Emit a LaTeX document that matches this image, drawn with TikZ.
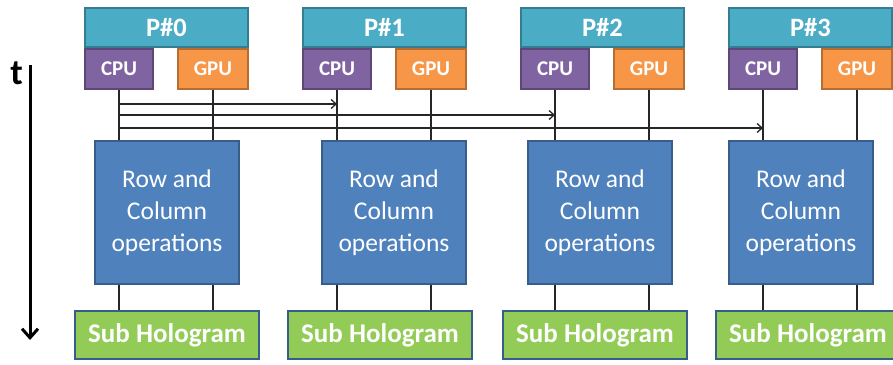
\documentclass[tikz,border=0pt]{standalone}
\usepackage{fontspec}
\setmainfont{Carlito}
\usepackage{tikz}
\usetikzlibrary{positioning,calc,arrows.meta}

\definecolor{procfill}{RGB}{75,172,198}
\definecolor{procline}{RGB}{53,125,145}
\definecolor{cpufill}{RGB}{128,100,162}
\definecolor{cpuline}{RGB}{92,71,118}
\definecolor{gpufill}{RGB}{247,150,70}
\definecolor{gpuline}{RGB}{182,109,49}
\definecolor{opfill}{RGB}{79,129,189}
\definecolor{opline}{RGB}{56,93,138}
\definecolor{subfill}{RGB}{146,204,86}

\begin{document}
\begin{tikzpicture}[x=1pt, y=-1pt,
    box/.style={draw, line width=1.6pt, inner sep=0pt, text=white},
    proc/.style={box, draw=procline, fill=procfill, minimum width=163pt, minimum height=39pt,
        font=\fontsize{26.5}{30}\selectfont\bfseries},
    cpu/.style={box, draw=cpuline, fill=cpufill, minimum width=68pt, minimum height=40pt,
        font=\fontsize{21}{25}\selectfont\bfseries},
    gpu/.style={box, draw=gpuline, fill=gpufill, minimum width=70pt, minimum height=40pt,
        font=\fontsize{21}{25}\selectfont\bfseries},
    ops/.style={box, draw=opline, fill=opfill, minimum width=144pt, minimum height=143pt,
        align=center, font=\fontsize{25.5}{32}\selectfont},
    sub/.style={box, draw=opline, fill=subfill, minimum width=184pt, minimum height=48pt,
        font=\fontsize{27}{30}\selectfont\bfseries},
    wire/.style={line width=1.3pt, black!85},
    send/.style={wire, -{Straight Barb[length=5pt, width=9pt]}}]
    \useasboundingbox (0,0) rectangle (893,364);

    % one column per processor: P box, CPU, GPU, operations, sub hologram
    \foreach \n/\pl/\rl/\sl in {0/85/95/75, 1/303/322/288, 2/521/528/503, 3/729/729/716} {
        \node [proc] (p\n) at (\pl+81.5, 27.5) {P\#\n};
        \node [cpu] (cpu\n) at (\pl+34, 69) {CPU};
        \node [gpu] (gpu\n) at (\pl+128, 69) {GPU};
        \node [ops] (ops\n) at (\rl+72, 212.5) {Row and\\Column\\operations};
        \node [sub] (sub\n) at (\sl+92, 335) {Sub Hologram};

        \draw [wire] (cpu\n.south) -- (cpu\n.south |- ops\n.north);
        \draw [wire] (gpu\n.south) -- (gpu\n.south |- ops\n.north);
        \draw [wire] (ops\n.south -| cpu\n.south) -- (sub\n.north -| cpu\n.south);
        \draw [wire] (ops\n.south -| gpu\n.south) -- (sub\n.north -| gpu\n.south);
    }

    % CPU 0 sends to the others
    \foreach \k/\y in {1/104, 2/115, 3/128}
        \draw [send] (cpu0.south |- 0,\y) -- (cpu\k.south |- 0,\y);

    % time axis
    \coordinate (tstart) at (30,65);
    \coordinate (tend) at (30,340);
    \draw [line width=3pt, -{Straight Barb[length=9pt, width=16pt]}] (tstart) -- (tend);
    \node [font=\fontsize{36}{40}\selectfont\bfseries, inner sep=0pt] (tlabel) at (16.5,73) {t};
\end{tikzpicture}
\end{document}
